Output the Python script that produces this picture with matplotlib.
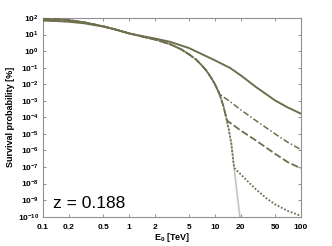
import numpy as np
import matplotlib
matplotlib.use("Agg")
import matplotlib.pyplot as plt

plt.rcParams['font.family'] = ['Liberation Sans', 'DejaVu Sans']
plt.rcParams['mathtext.fontset'] = 'custom'
plt.rcParams['mathtext.rm'] = 'Liberation Sans:bold'
plt.rcParams['mathtext.bf'] = 'Liberation Sans:bold'

# ---- data (energies in TeV, log10 of survival probability in %) ----
E_full = [0.1, 0.15, 0.2, 0.3, 0.5, 0.7, 1.0, 1.5, 2, 3, 5, 7, 10, 15, 20, 30, 50, 70, 100]
logP_full = [1.84, 1.81, 1.77, 1.68, 1.48, 1.3, 1.07, 0.88, 0.76, 0.56, 0.18, -0.18, -0.56,
             -1.02, -1.47, -2.17, -2.98, -3.4, -3.78]

E_cut = [0.1, 0.15, 0.2, 0.3, 0.5, 0.7, 1.0, 1.5, 2, 3, 4, 5, 6, 7, 8, 9, 10, 11.3,
         12.5, 13.5, 14.5, 15.5, 16.7, 18, 19.5, 20.5]
logP_cut = [1.95, 1.92, 1.87, 1.74, 1.5, 1.3, 1.07, 0.85, 0.7, 0.42, 0.12, -0.2, -0.5,
            -0.85, -1.2, -1.6, -2.0, -2.6, -3.3, -4.0, -4.75, -5.6, -7.05, -8.5, -10.0, -11.0]

E_dashdot = [11.3, 15, 20, 30, 50, 70, 100]
logP_dashdot = [-2.6, -3.05, -3.55, -4.2, -5.0, -5.5, -5.95]

E_dashed = [13.8, 15.5, 20, 30, 40, 50, 70, 100]
logP_dashed = [-4.2, -4.38, -4.8, -5.4, -5.85, -6.2, -6.7, -7.08]

E_dotted = [16.7, 20, 25, 30, 40, 50, 70, 100]
logP_dotted = [-7.05, -7.45, -7.95, -8.35, -8.9, -9.25, -9.65, -9.95]

x_ticks = [0.1, 0.2, 0.5, 1, 2, 5, 10, 20, 50, 100]
x_tick_labels = ['0.1', '0.2', '0.5', '1', '2', '5', '10', '20', '50', '100']
y_exps = list(range(-10, 3))

olive = '#6e6e4c'
grey = '#c4c4c4'

fig = plt.figure(figsize=(3.32, 2.46), dpi=100)
ax = fig.add_axes([0.1295, 0.119, 0.777, 0.808])


def branch(E_common, L_common, E_b, L_b):
    Ec = [e for e in E_common if e < E_b[0]]
    Lc = L_common[:len(Ec)]
    return np.array(Ec + list(E_b)), np.power(10.0, np.array(list(Lc) + list(L_b)))


ax.plot(E_cut, np.power(10.0, logP_cut), color=grey, lw=1.2, zorder=1)
e, p = branch(E_cut, logP_cut, E_dotted, logP_dotted)
ax.plot(e, p, color=olive, lw=1.3, ls=(0, (1, 1)), zorder=2)
e, p = branch(E_cut, logP_cut, E_dashed, logP_dashed)
ax.plot(e, p, color=olive, lw=1.3, ls=(0, (4, 1.5)), zorder=3)
e, p = branch(E_cut, logP_cut, E_dashdot, logP_dashdot)
ax.plot(e, p, color=olive, lw=1.1, ls=(0, (4, 1.5, 1, 1.5)), zorder=4)
ax.plot(E_full, np.power(10.0, logP_full), color=olive, lw=1.4, zorder=5)

ax.set_xscale('log')
ax.set_yscale('log')
ax.set_xlim(0.1, 100)
ax.set_ylim(1e-10, 1e2)
ax.set_xticks(x_ticks)
ax.set_xticklabels(x_tick_labels)
ax.set_yticks([10.0 ** k for k in y_exps])
ax.set_yticklabels([r'$\mathbf{10^{%d}}$' % k for k in y_exps])
ax.minorticks_off()
ax.tick_params(direction='in', length=2.5, width=0.6, color='#808080',
               top=True, right=True, labelsize=6)
ax.tick_params(axis='x', pad=5)
ax.tick_params(axis='y', pad=3)
for lab in ax.get_xticklabels():
    lab.set_fontweight('bold')
for s in ax.spines.values():
    s.set_color('#909090')
    s.set_linewidth(0.8)

ax.set_xlabel(r'E$_\mathbf{0}$ [TeV]', fontsize=6.5, fontweight='bold', labelpad=0)
ax.set_ylabel('Survival probability [%]', fontsize=6.5, fontweight='bold', labelpad=2)
ax.text(0.04, 0.03, 'z = 0.188', transform=ax.transAxes, fontsize=12.5,
        ha='left', va='bottom', color='black')

fig.savefig('out.png', dpi=100)
